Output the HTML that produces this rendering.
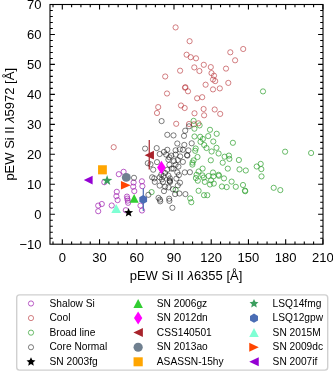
<!DOCTYPE html>
<html><head><meta charset="utf-8"><style>
html,body{margin:0;padding:0;background:#fff;width:333px;height:371px;overflow:hidden;font-family:"Liberation Sans",sans-serif;}
svg{display:block;will-change:transform}
</style></head><body><svg width="333" height="371" viewBox="0 0 333 371"><rect width="333" height="371" fill="#fff"/><g fill="none" stroke="#a020b0" stroke-width="1.0" stroke-opacity="0.72"><circle cx="141.9" cy="181.3" r="2.6"/><circle cx="142.4" cy="186.2" r="2.6"/><circle cx="140.5" cy="205.6" r="2.6"/><circle cx="142.0" cy="210.5" r="2.6"/><circle cx="118.8" cy="174.2" r="2.6"/><circle cx="123.6" cy="171.8" r="2.6"/><circle cx="104.3" cy="182.2" r="2.6"/><circle cx="116.8" cy="191.8" r="2.6"/><circle cx="116.4" cy="196.2" r="2.6"/><circle cx="117.6" cy="200.1" r="2.6"/><circle cx="127.0" cy="196.6" r="2.6"/><circle cx="127.3" cy="198.6" r="2.6"/><circle cx="127.8" cy="200.6" r="2.6"/><circle cx="128.1" cy="202.8" r="2.6"/><circle cx="98.2" cy="205.6" r="2.6"/><circle cx="101.8" cy="204.0" r="2.6"/><circle cx="98.2" cy="211.2" r="2.6"/><circle cx="111.7" cy="205.5" r="2.6"/><circle cx="125.8" cy="210.2" r="2.6"/><circle cx="133.6" cy="182.5" r="2.6"/><circle cx="133.2" cy="186.7" r="2.6"/><circle cx="134.3" cy="191.1" r="2.6"/></g><g fill="none" stroke="#b83438" stroke-width="1.0" stroke-opacity="0.62"><circle cx="175.6" cy="27.4" r="2.6"/><circle cx="189.6" cy="41.2" r="2.6"/><circle cx="186.6" cy="54.7" r="2.6"/><circle cx="190.7" cy="57.2" r="2.6"/><circle cx="196.0" cy="58.3" r="2.6"/><circle cx="230.3" cy="52.3" r="2.6"/><circle cx="243.2" cy="49.0" r="2.6"/><circle cx="235.1" cy="60.3" r="2.6"/><circle cx="203.8" cy="64.8" r="2.6"/><circle cx="194.3" cy="67.4" r="2.6"/><circle cx="199.4" cy="71.0" r="2.6"/><circle cx="180.1" cy="70.7" r="2.6"/><circle cx="165.2" cy="76.5" r="2.6"/><circle cx="210.8" cy="67.1" r="2.6"/><circle cx="226.0" cy="68.6" r="2.6"/><circle cx="211.5" cy="73.1" r="2.6"/><circle cx="214.0" cy="75.7" r="2.6"/><circle cx="213.0" cy="79.5" r="2.6"/><circle cx="215.2" cy="81.1" r="2.6"/><circle cx="228.3" cy="82.9" r="2.6"/><circle cx="205.6" cy="84.7" r="2.6"/><circle cx="185.0" cy="87.7" r="2.6"/><circle cx="185.4" cy="87.2" r="2.6"/><circle cx="188.0" cy="91.3" r="2.6"/><circle cx="219.8" cy="88.4" r="2.6"/><circle cx="213.0" cy="89.4" r="2.6"/><circle cx="167.0" cy="93.5" r="2.6"/><circle cx="197.1" cy="98.3" r="2.6"/><circle cx="202.2" cy="97.2" r="2.6"/><circle cx="158.2" cy="107.1" r="2.6"/><circle cx="181.0" cy="105.5" r="2.6"/><circle cx="184.7" cy="108.0" r="2.6"/><circle cx="203.6" cy="109.0" r="2.6"/><circle cx="214.7" cy="109.5" r="2.6"/><circle cx="220.2" cy="113.9" r="2.6"/><circle cx="157.0" cy="113.0" r="2.6"/><circle cx="113.7" cy="147.2" r="2.6"/><circle cx="194.5" cy="113.3" r="2.6"/><circle cx="204.1" cy="115.3" r="2.6"/><circle cx="176.2" cy="123.8" r="2.6"/><circle cx="189.0" cy="124.0" r="2.6"/><circle cx="193.9" cy="124.3" r="2.6"/><circle cx="198.4" cy="123.3" r="2.6"/></g><g fill="none" stroke="#2ca02c" stroke-width="1.0" stroke-opacity="0.7"><circle cx="263.0" cy="91.4" r="2.6"/><circle cx="193.6" cy="120.9" r="2.6"/><circle cx="199.6" cy="125.4" r="2.6"/><circle cx="194.4" cy="128.7" r="2.6"/><circle cx="194.5" cy="136.5" r="2.6"/><circle cx="200.2" cy="136.8" r="2.6"/><circle cx="202.9" cy="139.0" r="2.6"/><circle cx="208.2" cy="136.1" r="2.6"/><circle cx="213.3" cy="141.5" r="2.6"/><circle cx="200.5" cy="141.8" r="2.6"/><circle cx="204.2" cy="145.0" r="2.6"/><circle cx="206.5" cy="148.0" r="2.6"/><circle cx="211.6" cy="151.5" r="2.6"/><circle cx="195.7" cy="148.5" r="2.6"/><circle cx="195.2" cy="150.8" r="2.6"/><circle cx="210.0" cy="129.8" r="2.6"/><circle cx="216.7" cy="133.8" r="2.6"/><circle cx="216.5" cy="147.8" r="2.6"/><circle cx="232.9" cy="142.8" r="2.6"/><circle cx="197.5" cy="157.0" r="2.6"/><circle cx="193.6" cy="160.4" r="2.6"/><circle cx="192.5" cy="162.6" r="2.6"/><circle cx="192.4" cy="164.6" r="2.6"/><circle cx="210.8" cy="160.3" r="2.6"/><circle cx="218.6" cy="153.5" r="2.6"/><circle cx="224.6" cy="156.7" r="2.6"/><circle cx="228.9" cy="155.6" r="2.6"/><circle cx="229.4" cy="158.9" r="2.6"/><circle cx="222.7" cy="162.7" r="2.6"/><circle cx="227.8" cy="168.6" r="2.6"/><circle cx="202.6" cy="168.6" r="2.6"/><circle cx="198.6" cy="171.5" r="2.6"/><circle cx="196.6" cy="174.8" r="2.6"/><circle cx="202.5" cy="175.4" r="2.6"/><circle cx="195.9" cy="178.0" r="2.6"/><circle cx="203.7" cy="177.6" r="2.6"/><circle cx="197.8" cy="180.7" r="2.6"/><circle cx="204.8" cy="181.9" r="2.6"/><circle cx="211.1" cy="180.3" r="2.6"/><circle cx="213.0" cy="172.5" r="2.6"/><circle cx="213.4" cy="176.4" r="2.6"/><circle cx="208.6" cy="176.0" r="2.6"/><circle cx="210.0" cy="184.5" r="2.6"/><circle cx="213.8" cy="183.6" r="2.6"/><circle cx="218.6" cy="174.8" r="2.6"/><circle cx="218.9" cy="175.8" r="2.6"/><circle cx="224.0" cy="178.4" r="2.6"/><circle cx="221.9" cy="186.5" r="2.6"/><circle cx="226.7" cy="187.1" r="2.6"/><circle cx="231.6" cy="181.6" r="2.6"/><circle cx="198.6" cy="190.8" r="2.6"/><circle cx="204.0" cy="195.2" r="2.6"/><circle cx="207.3" cy="195.2" r="2.6"/><circle cx="190.2" cy="198.4" r="2.6"/><circle cx="191.3" cy="202.2" r="2.6"/><circle cx="175.6" cy="189.8" r="2.6"/><circle cx="151.6" cy="192.1" r="2.6"/><circle cx="285.1" cy="151.7" r="2.6"/><circle cx="311.1" cy="153.0" r="2.6"/><circle cx="260.7" cy="163.9" r="2.6"/><circle cx="256.7" cy="166.5" r="2.6"/><circle cx="261.3" cy="169.1" r="2.6"/><circle cx="245.8" cy="170.5" r="2.6"/><circle cx="261.5" cy="176.4" r="2.6"/><circle cx="239.5" cy="169.4" r="2.6"/><circle cx="243.0" cy="185.0" r="2.6"/><circle cx="245.0" cy="190.6" r="2.6"/><circle cx="245.2" cy="191.2" r="2.6"/><circle cx="273.7" cy="187.8" r="2.6"/><circle cx="280.3" cy="190.1" r="2.6"/><circle cx="235.8" cy="186.8" r="2.6"/><circle cx="238.9" cy="160.0" r="2.6"/></g><g fill="none" stroke="#000000" stroke-width="1.0" stroke-opacity="0.5"><circle cx="161.6" cy="121.1" r="2.6"/><circle cx="167.3" cy="134.8" r="2.6"/><circle cx="145.1" cy="148.6" r="2.6"/><circle cx="156.7" cy="148.1" r="2.6"/><circle cx="167.3" cy="149.8" r="2.6"/><circle cx="189.0" cy="126.3" r="2.6"/><circle cx="185.2" cy="130.7" r="2.6"/><circle cx="184.0" cy="135.9" r="2.6"/><circle cx="173.5" cy="135.4" r="2.6"/><circle cx="177.3" cy="143.5" r="2.6"/><circle cx="184.3" cy="144.9" r="2.6"/><circle cx="191.7" cy="143.3" r="2.6"/><circle cx="175.6" cy="150.3" r="2.6"/><circle cx="179.8" cy="149.4" r="2.6"/><circle cx="182.9" cy="149.8" r="2.6"/><circle cx="188.4" cy="150.4" r="2.6"/><circle cx="159.7" cy="154.0" r="2.6"/><circle cx="164.0" cy="151.9" r="2.6"/><circle cx="166.2" cy="154.6" r="2.6"/><circle cx="169.4" cy="157.3" r="2.6"/><circle cx="168.4" cy="159.6" r="2.6"/><circle cx="147.8" cy="163.2" r="2.6"/><circle cx="150.5" cy="164.3" r="2.6"/><circle cx="157.0" cy="162.1" r="2.6"/><circle cx="153.2" cy="169.7" r="2.6"/><circle cx="169.4" cy="164.8" r="2.6"/><circle cx="167.3" cy="169.7" r="2.6"/><circle cx="165.1" cy="173.0" r="2.6"/><circle cx="161.3" cy="174.6" r="2.6"/><circle cx="152.1" cy="177.3" r="2.6"/><circle cx="154.3" cy="178.4" r="2.6"/><circle cx="159.7" cy="177.3" r="2.6"/><circle cx="163.5" cy="176.2" r="2.6"/><circle cx="168.4" cy="175.6" r="2.6"/><circle cx="161.9" cy="179.4" r="2.6"/><circle cx="171.6" cy="168.6" r="2.6"/><circle cx="170.0" cy="178.4" r="2.6"/><circle cx="187.0" cy="155.1" r="2.6"/><circle cx="187.4" cy="155.6" r="2.6"/><circle cx="171.3" cy="155.6" r="2.6"/><circle cx="175.6" cy="154.6" r="2.6"/><circle cx="180.2" cy="156.4" r="2.6"/><circle cx="174.0" cy="161.1" r="2.6"/><circle cx="177.8" cy="160.0" r="2.6"/><circle cx="182.9" cy="161.9" r="2.6"/><circle cx="175.6" cy="164.8" r="2.6"/><circle cx="173.5" cy="168.6" r="2.6"/><circle cx="178.4" cy="166.6" r="2.6"/><circle cx="177.3" cy="172.4" r="2.6"/><circle cx="178.9" cy="175.1" r="2.6"/><circle cx="184.8" cy="172.4" r="2.6"/><circle cx="189.9" cy="172.2" r="2.6"/><circle cx="176.4" cy="178.6" r="2.6"/><circle cx="154.8" cy="181.9" r="2.6"/><circle cx="163.0" cy="181.9" r="2.6"/><circle cx="159.7" cy="185.6" r="2.6"/><circle cx="165.1" cy="186.7" r="2.6"/><circle cx="164.0" cy="191.1" r="2.6"/><circle cx="148.4" cy="194.8" r="2.6"/><circle cx="158.5" cy="197.9" r="2.6"/><circle cx="160.0" cy="199.6" r="2.6"/><circle cx="160.2" cy="201.3" r="2.6"/><circle cx="169.5" cy="180.5" r="2.6"/><circle cx="170.0" cy="182.0" r="2.6"/><circle cx="169.8" cy="181.2" r="2.6"/><circle cx="168.6" cy="187.4" r="2.6"/><circle cx="169.2" cy="198.7" r="2.6"/><circle cx="169.4" cy="200.9" r="2.6"/><circle cx="180.0" cy="182.7" r="2.6"/><circle cx="177.8" cy="185.4" r="2.6"/><circle cx="172.9" cy="189.2" r="2.6"/><circle cx="175.1" cy="194.1" r="2.6"/><circle cx="179.4" cy="193.5" r="2.6"/><circle cx="185.4" cy="194.1" r="2.6"/><circle cx="172.4" cy="207.8" r="2.6"/><circle cx="134.0" cy="177.8" r="2.6"/></g><line x1="149.25" y1="140.0" x2="149.25" y2="169.6" stroke="#a8232b" stroke-width="1.2"/><polygon points="144.60,155.20 153.95,150.85 153.95,159.55" fill="#a8232b"/><polygon points="161.40,160.70 165.70,167.45 161.40,174.20 157.10,167.45" fill="#ff00ff"/><circle cx="126.3" cy="177.4" r="4.45" fill="#708090"/><rect x="98.05" y="165.25" width="8.8" height="9.1" fill="#ffa500"/><polygon points="83.80,180.05 92.65,175.65 92.65,184.45" fill="#9400d3"/><polygon points="107.10,175.10 108.39,178.82 112.33,178.90 109.19,181.28 110.33,185.05 107.10,182.80 103.87,185.05 105.01,181.28 101.87,178.90 105.81,178.82" fill="#3a9e5e"/><polygon points="130.70,185.30 120.95,181.05 120.95,189.55" fill="#ff4500"/><polygon points="134.15,194.10 129.60,202.75 138.70,202.75" fill="#32cd32"/><line x1="143.3" y1="188.2" x2="143.3" y2="210.9" stroke="#4a6db5" stroke-width="1.2"/><polygon points="143.20,195.10 147.10,197.30 147.10,201.70 143.20,203.90 139.30,201.70 139.30,197.30" fill="#4a6db5"/><polygon points="116.20,204.10 111.30,213.05 121.10,213.05" fill="#7fffd4"/><polygon points="128.60,207.95 129.83,211.01 133.12,211.23 130.59,213.35 131.39,216.54 128.60,214.79 125.81,216.54 126.61,213.35 124.08,211.23 127.37,211.01" fill="#000"/><rect x="50.0" y="4.5" width="273.0" height="239.7" fill="none" stroke="#000" stroke-width="1.1"/><path d="M53.00 244.2v-2.8M53.00 4.5v2.8M62.31 244.2v-4.9M62.31 4.5v4.9M71.62 244.2v-2.8M71.62 4.5v2.8M80.92 244.2v-2.8M80.92 4.5v2.8M90.23 244.2v-2.8M90.23 4.5v2.8M99.54 244.2v-4.9M99.54 4.5v4.9M108.84 244.2v-2.8M108.84 4.5v2.8M118.15 244.2v-2.8M118.15 4.5v2.8M127.46 244.2v-2.8M127.46 4.5v2.8M136.76 244.2v-4.9M136.76 4.5v4.9M146.07 244.2v-2.8M146.07 4.5v2.8M155.38 244.2v-2.8M155.38 4.5v2.8M164.68 244.2v-2.8M164.68 4.5v2.8M173.99 244.2v-4.9M173.99 4.5v4.9M183.30 244.2v-2.8M183.30 4.5v2.8M192.60 244.2v-2.8M192.60 4.5v2.8M201.91 244.2v-2.8M201.91 4.5v2.8M211.22 244.2v-4.9M211.22 4.5v4.9M220.53 244.2v-2.8M220.53 4.5v2.8M229.83 244.2v-2.8M229.83 4.5v2.8M239.14 244.2v-2.8M239.14 4.5v2.8M248.45 244.2v-4.9M248.45 4.5v4.9M257.75 244.2v-2.8M257.75 4.5v2.8M267.06 244.2v-2.8M267.06 4.5v2.8M276.37 244.2v-2.8M276.37 4.5v2.8M285.67 244.2v-4.9M285.67 4.5v4.9M294.98 244.2v-2.8M294.98 4.5v2.8M304.29 244.2v-2.8M304.29 4.5v2.8M313.59 244.2v-2.8M313.59 4.5v2.8M322.90 244.2v-4.9M322.90 4.5v4.9M50.0 238.21h2.8M323.0 238.21h-2.8M50.0 232.21h2.8M323.0 232.21h-2.8M50.0 226.22h2.8M323.0 226.22h-2.8M50.0 220.23h2.8M323.0 220.23h-2.8M50.0 214.24h4.9M323.0 214.24h-4.9M50.0 208.25h2.8M323.0 208.25h-2.8M50.0 202.25h2.8M323.0 202.25h-2.8M50.0 196.26h2.8M323.0 196.26h-2.8M50.0 190.27h2.8M323.0 190.27h-2.8M50.0 184.27h4.9M323.0 184.27h-4.9M50.0 178.28h2.8M323.0 178.28h-2.8M50.0 172.29h2.8M323.0 172.29h-2.8M50.0 166.30h2.8M323.0 166.30h-2.8M50.0 160.31h2.8M323.0 160.31h-2.8M50.0 154.31h4.9M323.0 154.31h-4.9M50.0 148.32h2.8M323.0 148.32h-2.8M50.0 142.33h2.8M323.0 142.33h-2.8M50.0 136.33h2.8M323.0 136.33h-2.8M50.0 130.34h2.8M323.0 130.34h-2.8M50.0 124.35h4.9M323.0 124.35h-4.9M50.0 118.36h2.8M323.0 118.36h-2.8M50.0 112.36h2.8M323.0 112.36h-2.8M50.0 106.37h2.8M323.0 106.37h-2.8M50.0 100.38h2.8M323.0 100.38h-2.8M50.0 94.39h4.9M323.0 94.39h-4.9M50.0 88.39h2.8M323.0 88.39h-2.8M50.0 82.40h2.8M323.0 82.40h-2.8M50.0 76.41h2.8M323.0 76.41h-2.8M50.0 70.42h2.8M323.0 70.42h-2.8M50.0 64.42h4.9M323.0 64.42h-4.9M50.0 58.43h2.8M323.0 58.43h-2.8M50.0 52.44h2.8M323.0 52.44h-2.8M50.0 46.45h2.8M323.0 46.45h-2.8M50.0 40.45h2.8M323.0 40.45h-2.8M50.0 34.46h4.9M323.0 34.46h-4.9M50.0 28.47h2.8M323.0 28.47h-2.8M50.0 22.48h2.8M323.0 22.48h-2.8M50.0 16.48h2.8M323.0 16.48h-2.8M50.0 10.49h2.8M323.0 10.49h-2.8M50.0 4.50h4.9M323.0 4.50h-4.9" stroke="#000" stroke-width="1.1" fill="none"/><text x="41.5" y="248.70" font-family="Liberation Sans, sans-serif" font-size="13.0" text-anchor="end">−10</text><text x="41.5" y="218.74" font-family="Liberation Sans, sans-serif" font-size="13.0" text-anchor="end">0</text><text x="41.5" y="188.77" font-family="Liberation Sans, sans-serif" font-size="13.0" text-anchor="end">10</text><text x="41.5" y="158.81" font-family="Liberation Sans, sans-serif" font-size="13.0" text-anchor="end">20</text><text x="41.5" y="128.85" font-family="Liberation Sans, sans-serif" font-size="13.0" text-anchor="end">30</text><text x="41.5" y="98.89" font-family="Liberation Sans, sans-serif" font-size="13.0" text-anchor="end">40</text><text x="41.5" y="68.92" font-family="Liberation Sans, sans-serif" font-size="13.0" text-anchor="end">50</text><text x="41.5" y="38.96" font-family="Liberation Sans, sans-serif" font-size="13.0" text-anchor="end">60</text><text x="41.5" y="9.00" font-family="Liberation Sans, sans-serif" font-size="13.0" text-anchor="end">70</text><text x="62.31" y="261.8" font-family="Liberation Sans, sans-serif" font-size="13.0" text-anchor="middle">0</text><text x="99.54" y="261.8" font-family="Liberation Sans, sans-serif" font-size="13.0" text-anchor="middle">30</text><text x="136.76" y="261.8" font-family="Liberation Sans, sans-serif" font-size="13.0" text-anchor="middle">60</text><text x="173.99" y="261.8" font-family="Liberation Sans, sans-serif" font-size="13.0" text-anchor="middle">90</text><text x="211.22" y="261.8" font-family="Liberation Sans, sans-serif" font-size="13.0" text-anchor="middle">120</text><text x="248.45" y="261.8" font-family="Liberation Sans, sans-serif" font-size="13.0" text-anchor="middle">150</text><text x="285.67" y="261.8" font-family="Liberation Sans, sans-serif" font-size="13.0" text-anchor="middle">180</text><text x="322.90" y="261.8" font-family="Liberation Sans, sans-serif" font-size="13.0" text-anchor="middle">210</text><text x="186" y="280" font-family="Liberation Sans, sans-serif" font-size="13.0" text-anchor="middle">pEW Si II <tspan font-style="italic">λ</tspan>6355 [Å]</text><text transform="translate(13.6,124.3) rotate(-90)" font-family="Liberation Sans, sans-serif" font-size="13.0" text-anchor="middle">pEW Si II <tspan font-style="italic">λ</tspan>5972 [Å]</text><rect x="16.7" y="294.9" width="311.0" height="75.2" rx="2.8" fill="#fff" stroke="#d0d0d0" stroke-width="1.4"/><circle cx="31.0" cy="303.50" r="2.6" fill="none" stroke="#a020b0" stroke-opacity="0.72" stroke-width="1.0"/><text x="49.5" y="306.70" font-family="Liberation Sans, sans-serif" font-size="10.2">Shalow Si</text><circle cx="31.0" cy="318.07" r="2.6" fill="none" stroke="#b83438" stroke-opacity="0.62" stroke-width="1.0"/><text x="49.5" y="321.27" font-family="Liberation Sans, sans-serif" font-size="10.2">Cool</text><circle cx="31.0" cy="332.65" r="2.6" fill="none" stroke="#2ca02c" stroke-opacity="0.7" stroke-width="1.0"/><text x="49.5" y="335.85" font-family="Liberation Sans, sans-serif" font-size="10.2">Broad line</text><circle cx="31.0" cy="347.23" r="2.6" fill="none" stroke="#000000" stroke-opacity="0.5" stroke-width="1.0"/><text x="49.5" y="350.43" font-family="Liberation Sans, sans-serif" font-size="10.2">Core Normal</text><polygon points="31.00,357.20 32.30,360.11 35.47,360.45 33.10,362.58 33.76,365.70 31.00,364.11 28.24,365.70 28.90,362.58 26.53,360.45 29.70,360.11" fill="#000"/><text x="49.5" y="365.00" font-family="Liberation Sans, sans-serif" font-size="10.2">SN 2003fg</text><polygon points="138.15,298.95 133.40,307.95 142.90,307.95" fill="#32cd32"/><text x="156.8" y="306.70" font-family="Liberation Sans, sans-serif" font-size="10.2">SN 2006gz</text><polygon points="138.15,311.62 142.30,318.07 138.15,324.52 134.00,318.07" fill="#ff00ff"/><text x="156.8" y="321.27" font-family="Liberation Sans, sans-serif" font-size="10.2">SN 2012dn</text><polygon points="133.40,332.60 142.90,328.10 142.90,337.10" fill="#a8232b"/><text x="156.8" y="335.85" font-family="Liberation Sans, sans-serif" font-size="10.2">CSS140501</text><circle cx="138.15" cy="347.23" r="4.6" fill="#708090"/><text x="156.8" y="350.43" font-family="Liberation Sans, sans-serif" font-size="10.2">SN 2013ao</text><rect x="133.55" y="357.30" width="9.2" height="9.0" fill="#ffa500"/><text x="156.8" y="365.00" font-family="Liberation Sans, sans-serif" font-size="10.2">ASASSN-15hy</text><polygon points="254.00,298.90 255.30,301.81 258.47,302.15 256.10,304.28 256.76,307.40 254.00,305.81 251.24,307.40 251.90,304.28 249.53,302.15 252.70,301.81" fill="#3a9e5e"/><text x="272.6" y="306.70" font-family="Liberation Sans, sans-serif" font-size="10.2">LSQ14fmg</text><polygon points="254.00,313.57 258.00,315.88 258.00,320.48 254.00,322.78 250.00,320.48 250.00,315.88" fill="#4a6db5"/><text x="272.6" y="321.27" font-family="Liberation Sans, sans-serif" font-size="10.2">LSQ12gpw</text><polygon points="254.00,328.10 249.25,337.10 258.75,337.10" fill="#7fffd4"/><text x="272.6" y="335.85" font-family="Liberation Sans, sans-serif" font-size="10.2">SN 2015M</text><polygon points="258.75,347.18 249.25,342.68 249.25,351.68" fill="#ff4500"/><text x="272.6" y="350.43" font-family="Liberation Sans, sans-serif" font-size="10.2">SN 2009dc</text><polygon points="249.25,361.75 258.75,357.25 258.75,366.25" fill="#9400d3"/><text x="272.6" y="365.00" font-family="Liberation Sans, sans-serif" font-size="10.2">SN 2007if</text></svg></body></html>
